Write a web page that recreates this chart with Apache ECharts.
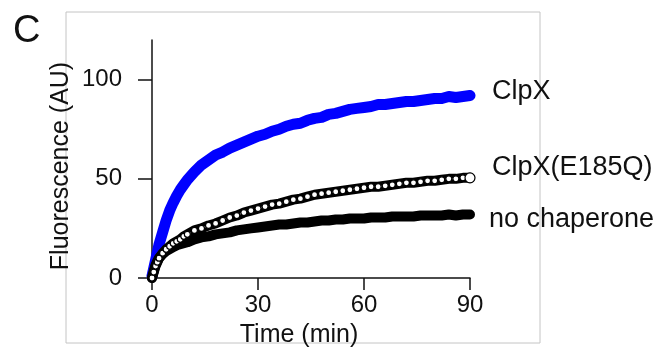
<!DOCTYPE html>
<html>
<head>
<meta charset="utf-8">
<script src="https://cdn.jsdelivr.net/npm/echarts@6/dist/echarts.min.js"></script>
<style>
html, body { margin: 0; padding: 0; background: #fff; }
#chart { width: 671px; height: 356px; }
</style>
</head>
<body>
<div id="chart"></div>
<script>
// time points (min)
var time = [0, 0.5, 1, 1.5, 2, 3, 4, 5, 6, 7, 8, 9, 10,
	12, 14, 16, 18, 20, 22, 24, 26, 28, 30, 32, 34, 36, 38, 40,
	42, 44, 46, 48, 50, 52, 54, 56, 58, 60, 62, 64, 66, 68, 70,
	72, 74, 76, 78, 80, 82, 84, 86, 88, 90];

// fluorescence (AU)
var clpx = [1, 5, 9, 13, 17, 23, 29, 34, 38, 41.5, 44.5, 47, 49.5,
	53.5, 57, 59.5, 62, 63.5, 65.5, 67, 68.5, 70, 71.5, 72.5, 74, 75, 76.5, 77.5,
	78, 79.5, 80.5, 81, 82.5, 83, 84, 85, 85.5, 86, 86.5, 87.5, 87.5, 88, 88.5,
	89, 89, 89.5, 90, 90.5, 90.5, 91.5, 91, 91.5, 92];
var clpxE185Q = [0, 3, 6, 8, 10, 12.5, 14.5, 16, 17.5, 18.5, 19.5, 21, 22,
	24, 25, 26.5, 27.5, 29, 30.5, 31.5, 33, 34, 35, 36, 37, 37.5, 38.5, 39.5,
	40, 41, 42, 42.5, 43, 43.5, 44, 44.5, 45, 45.5, 46, 46, 46.5, 47, 47.5,
	48, 48, 48.5, 49, 49, 49.5, 50, 50, 50.5, 50.5];
var noChaperone = [0, 3.5, 6.5, 8.5, 10, 12, 13.5, 14.5, 15.5, 16.5, 17, 17.5, 18,
	19.5, 20.5, 21, 22, 22.5, 23, 24, 24.5, 25, 25.5, 26, 26.5, 27, 27, 27.5,
	28, 28, 28.5, 29, 29, 29.5, 29.5, 30, 30, 30, 30.5, 30.5, 30.5, 31, 31,
	31, 31, 31.5, 31.5, 31.5, 31.5, 32, 31.5, 32, 32];

var seriesNames = ['ClpX', 'ClpX(E185Q)', 'no chaperone'];
var xTicks = [0, 30, 60, 90];
var yTicks = [0, 50, 100];
var yMax = 120;

function pairs(vals) {
	return time.map(function (t, i) { return [t, vals[i]]; });
}

var FONT = "'Liberation Sans', Arial, sans-serif";

var openData = pairs(clpxE185Q);
openData[openData.length - 1] = { value: openData[openData.length - 1], symbolSize: 10 };

var myChart = echarts.init(document.getElementById('chart'));
var option = {
	animation: false,
	grid: { left: 152, right: 201, top: 40, bottom: 78 },
	xAxis: {
		type: 'value',
		min: xTicks[0],
		max: xTicks[xTicks.length - 1],
		interval: xTicks[1] - xTicks[0],
		name: 'Time (min)',
		nameLocation: 'middle',
		nameGap: 45,
		nameTextStyle: { fontSize: 25, color: '#111', fontFamily: FONT, padding: [0, 24, 0, 0] },
		axisLine: { lineStyle: { color: '#111', width: 1.5 } },
		axisTick: { length: 12, lineStyle: { color: '#111', width: 1.5 } },
		axisLabel: { fontSize: 24, color: '#111', fontFamily: FONT, margin: 15 },
		splitLine: { show: false }
	},
	yAxis: {
		type: 'value',
		min: yTicks[0],
		max: yMax,
		interval: yTicks[1] - yTicks[0],
		name: 'Fluorescence (AU)',
		nameLocation: 'middle',
		nameRotate: 90,
		nameGap: 78,
		nameTextStyle: { fontSize: 25, color: '#111', fontFamily: FONT, padding: [0, 14, 0, 0] },
		axisLine: { show: true, lineStyle: { color: '#111', width: 1.5 } },
		axisTick: { show: true, length: 14, customValues: yTicks, lineStyle: { color: '#111', width: 1.5 } },
		axisLabel: { fontSize: 24, color: '#111', fontFamily: FONT, margin: 30, customValues: yTicks },
		splitLine: { show: false }
	},
	graphic: [
		{
			type: 'rect', z: -10, silent: true,
			shape: { x: 66, y: 12, width: 474, height: 331 },
			style: { fill: 'none', stroke: '#c4c4c4', lineWidth: 1 }
		},
		{
			type: 'text', silent: true,
			style: { x: 13, y: 32, text: 'C', fontSize: 38, fontFamily: FONT, fill: '#111',
				textAlign: 'left', textVerticalAlign: 'middle' }
		}
	],
	series: [
		{
			name: seriesNames[0],
			type: 'line',
			data: pairs(clpx),
			showSymbol: false,
			clip: false,
			color: '#0000ff',
			lineStyle: { width: 11, cap: 'round', join: 'round' },
			endLabel: { show: true, formatter: '{a}', fontSize: 27, color: '#111', fontFamily: FONT,
				distance: 22, offset: [0, -4] }
		},
		{
			name: seriesNames[2],
			type: 'line',
			data: pairs(noChaperone),
			showSymbol: false,
			clip: false,
			color: '#000',
			lineStyle: { width: 10, cap: 'round', join: 'round' },
			endLabel: { show: true, formatter: '{a}', fontSize: 27, color: '#111', fontFamily: FONT,
				distance: 19, offset: [0, 5] }
		},
		{
			name: seriesNames[1],
			type: 'line',
			data: openData,
			symbol: 'circle',
			symbolSize: 6,
			showAllSymbol: true,
			clip: false,
			color: '#000',
			itemStyle: { color: '#fff', borderColor: '#000', borderWidth: 1.2 },
			lineStyle: { width: 10, color: '#000', cap: 'round', join: 'round' },
			endLabel: { show: true, formatter: '{a}', fontSize: 27, color: '#111', fontFamily: FONT,
				distance: 22, offset: [0, -10] }
		},
		{
			// speckle of the open circles
			name: seriesNames[1] + ' ',
			type: 'line',
			data: pairs(clpxE185Q),
			showSymbol: false,
			silent: true,
			clip: false,
			z: 3,
			lineStyle: { width: 1.5, color: '#fff', type: [1.5, 4] }
		}
	]
};
myChart.setOption(option);
</script>
</body>
</html>
